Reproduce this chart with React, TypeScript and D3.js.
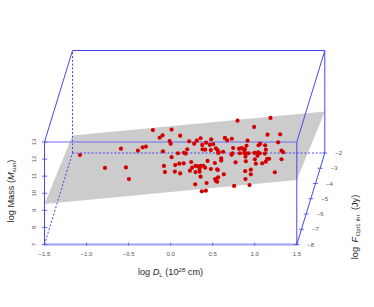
import React from 'react';
import * as d3 from 'd3';

const width = 374;
const height = 307;

const dlTicks = [-1.5, -1.0, -0.5, 0.0, 0.5, 1.0, 1.5];
const massTicks = [7, 8, 9, 10, 11, 12, 13];
const fluxTicks = [-8, -7, -6, -5, -4, -3, -2];

// fitted plane, log mass at the four box corners
const planeCorners: [number, number, number][] = [
  [-1.5, 9.37, -8],
  [-1.5, 8.02, -2],
  [1.5, 9.43, -2],
  [1.5, 10.78, -8],
];

// read off the picture as seen on the front face of the box (flux depth not recoverable)
const logDL = [
  -1.078, -0.591, -0.389, -0.333, -0.294, -0.781, -0.532, -0.496, -0.211, 0.011, 0.113, -0.096, -0.131,
  -0.012, 0.0, 0.22, 0.28, 0.312, 0.356, 0.422, 0.482, 0.375, 0.466, 0.506, 0.38, 0.41, 0.478, 0.538,
  0.558, 0.573, -0.092, 0.086, 0.157, 0.197, 0.178, 0.011, 0.439, 0.244, 0.154, 0.102, 0.054, -0.08,
  -0.068, 0.05, 0.113, 0.256, 0.296, 0.327, 0.356, 0.387, 0.41, 0.344, 0.478, 0.553, 0.296, 0.344,
  0.356, 0.565, 0.541, 0.292, 0.427, 0.371, 0.419, 0.795, 0.993, 1.187, 1.152, 1.302, 1.278, 0.914,
  0.645, 0.672, 0.728, 0.565, 0.624, 0.743, 0.724, 0.736, 0.814, 0.843, 0.862, 0.882, 0.902, 0.823,
  0.874, 0.894, 0.926, 0.89, 0.894, 0.997, 1.04, 1.06, 1.033, 1.001, 1.045, 1.064, 1.123, 1.132, 1.12,
  1.318, 1.337, 1.318, 1.171, 1.147, 1.132, 1.088, 1.013, 0.772, 0.601, 0.601, 0.526, 0.561, 0.633,
  0.529, 0.553, 0.886, 0.953, 0.953, 0.89, 1.239, 0.938, 0.755, 0.229,
];
const logMass = [
  12.24, 12.61, 12.49, 12.69, 12.73, 11.48, 11.51, 10.83, 13.7, 13.73, 13.37, 13.39, 13.25,
  13.06, 12.9, 13.04, 12.9, 13.08, 13.22, 12.96, 13.16, 12.83, 12.83, 12.87, 12.57, 12.55, 12.53, 12.63,
  12.53, 12.4, 12.46, 12.34, 12.37, 12.57, 12.32, 12.11, 11.89, 11.83, 11.75, 11.73, 11.65, 11.6,
  11.24, 11.27, 11.16, 11.5, 11.6, 11.58, 11.6, 11.61, 11.5, 11.44, 11.42, 11.4, 11.24, 11.26,
  10.97, 10.93, 10.72, 10.52, 10.6, 10.11, 10.15, 14.25, 13.88, 14.41, 13.43, 13.45, 12.98, 13.08,
  13.24, 13.1, 13.19, 12.36, 12.43, 12.65, 12.26, 12.34, 12.61, 12.65, 12.59, 12.57, 12.78, 12.34,
  12.36, 12.34, 12.34, 12.14, 11.87, 12.36, 12.4, 12.34, 12.2, 11.99, 12.81, 12.9, 12.81, 12.55, 12.32,
  12.49, 12.4, 11.99, 12.02, 12.01, 11.85, 11.75, 11.73, 11.81, 12.05, 11.91, 11.77, 11.36, 11.11,
  10.83, 10.68, 11.29, 11.38, 11.11, 10.83, 11.23, 10.48, 10.43, 11.32,
];

const x = d3.scaleLinear().domain([-1.5, 1.5]).range([44.5, 296.8]);
const y = d3.scaleLinear().domain([7, 13]).range([244.5, 142]);
const depthX = d3.scaleLinear().domain([-8, -2]).range([0, 28]);
const depthY = d3.scaleLinear().domain([-8, -2]).range([0, -91.5]);

const project = (dl: number, mass: number, flux: number): [number, number] => [
  x(dl) + depthX(flux),
  y(mass) + depthY(flux),
];

const BLUE = '#4646f2';
const TICK = '#555';
const LABEL = '#2a2a2a';
const FONT = '"Liberation Sans", Arial, sans-serif';

const edge = (a: [number, number, number], b: [number, number, number]) =>
  d3.line()([project(...a), project(...b)]) as string;

const solidEdges: [number, number, number][][] = [
  [[-1.5, 7, -8], [-1.5, 13, -8]],
  [[1.5, 7, -8], [1.5, 13, -8]],
  [[-1.5, 13, -8], [-1.5, 13, -2]],
  [[1.5, 13, -8], [1.5, 13, -2]],
  [[-1.5, 13, -2], [1.5, 13, -2]],
  [[1.5, 7, -2], [1.5, 13, -2]],
  [[1.5, 7, -8], [1.5, 7, -2]],
];
const dashedEdges: [number, number, number][][] = [
  [[-1.5, 7, -2], [-1.5, 13, -2]],
  [[-1.5, 7, -2], [1.5, 7, -2]],
  [[-1.5, 7, -8], [-1.5, 7, -2]],
];

export default function App() {
  const planePath = d3.line()(planeCorners.map((c) => project(...c))) + 'Z';

  return (
    <svg
      width={width}
      height={height}
      viewBox={`0 0 ${width} ${height}`}
      style={{ position: 'absolute', left: 0, top: 0, background: '#fff' }}
      fontFamily={FONT}
    >
      <path d={planePath} fill="#cccccc" />

      {dashedEdges.map((e, i) => (
        <path key={i} d={edge(e[0], e[1])} fill="none" stroke={BLUE} strokeWidth={1} strokeDasharray="2 1.8" />
      ))}
      {solidEdges.map((e, i) => (
        <path key={i} d={edge(e[0], e[1])} fill="none" stroke={BLUE} strokeWidth={1} />
      ))}
      <path d={edge([-1.5, 13, -8], [1.5, 13, -8])} fill="none" stroke="#6a6af0" strokeWidth={1.2} />
      <path d={edge([-1.5, 7, -8], [1.5, 7, -8])} fill="none" stroke="#a0a0fa" strokeWidth={2} />

      {dlTicks.map((t) => (
        <g key={t}>
          <line x1={x(t)} x2={x(t)} y1={y(7) - 2} y2={y(7) + 1} stroke={BLUE} strokeWidth={0.8} />
          <text x={x(t)} y={y(7) + 11.5} fontSize={6} fill={TICK} textAnchor="middle">
            {d3.format('.1f')(t).replace('-', '\u2212')}
          </text>
        </g>
      ))}

      {massTicks.map((t) => (
        <g key={t}>
          <line x1={x(-1.5) - 2.5} x2={x(-1.5) + 2.8} y1={y(t)} y2={y(t)} stroke={BLUE} strokeWidth={0.8} />
          <text
            transform={`translate(${x(-1.5) - 9},${y(t)}) rotate(-90)`}
            fontSize={6}
            fill={TICK}
            textAnchor="middle"
          >
            {t}
          </text>
        </g>
      ))}

      {fluxTicks.map((t) => {
        const [px, py] = project(1.5, 7, t);
        return (
          <g key={t}>
            <line x1={px - 2.5} x2={px + 2.5} y1={py} y2={py} stroke={BLUE} strokeWidth={0.8} />
            <text x={px + 10.5} y={py + 2} fontSize={6} fill={TICK}>
              {`\u2212${Math.abs(t)}`}
            </text>
          </g>
        );
      })}

      {logDL.map((d, i) => {
        const [cx, cy] = project(d, logMass[i], -8);
        return <circle key={i} cx={cx} cy={cy} r={2.1} fill="#d40000" />;
      })}

      <text x={170.5} y={275} fontSize={9.2} fill={LABEL} textAnchor="middle">
        log <tspan fontStyle="italic">D</tspan>
        <tspan fontSize={6} dy={1.5}>L</tspan>
        <tspan dy={-1.5}> (10</tspan>
        <tspan fontSize={6} dy={-3}>28</tspan>
        <tspan dy={3}> cm)</tspan>
      </text>

      <text transform="translate(14,191) rotate(-90)" fontSize={9.2} fill={LABEL} textAnchor="middle">
        log Mass (<tspan fontStyle="italic">M</tspan>
        <tspan fontSize={6} dy={1.5}>sun</tspan>
        <tspan dy={-1.5}>)</tspan>
      </text>

      <text transform="translate(358,227) rotate(-90)" fontSize={9.2} fill={LABEL} textAnchor="middle">
        log <tspan fontStyle="italic" dx={2}>F</tspan>
        <tspan fontSize={6} dy={1.5} dx={0.5}>Opt1 thr</tspan>
        <tspan dy={-1.5} dx={2}> (Jy)</tspan>
      </text>
    </svg>
  );
}
